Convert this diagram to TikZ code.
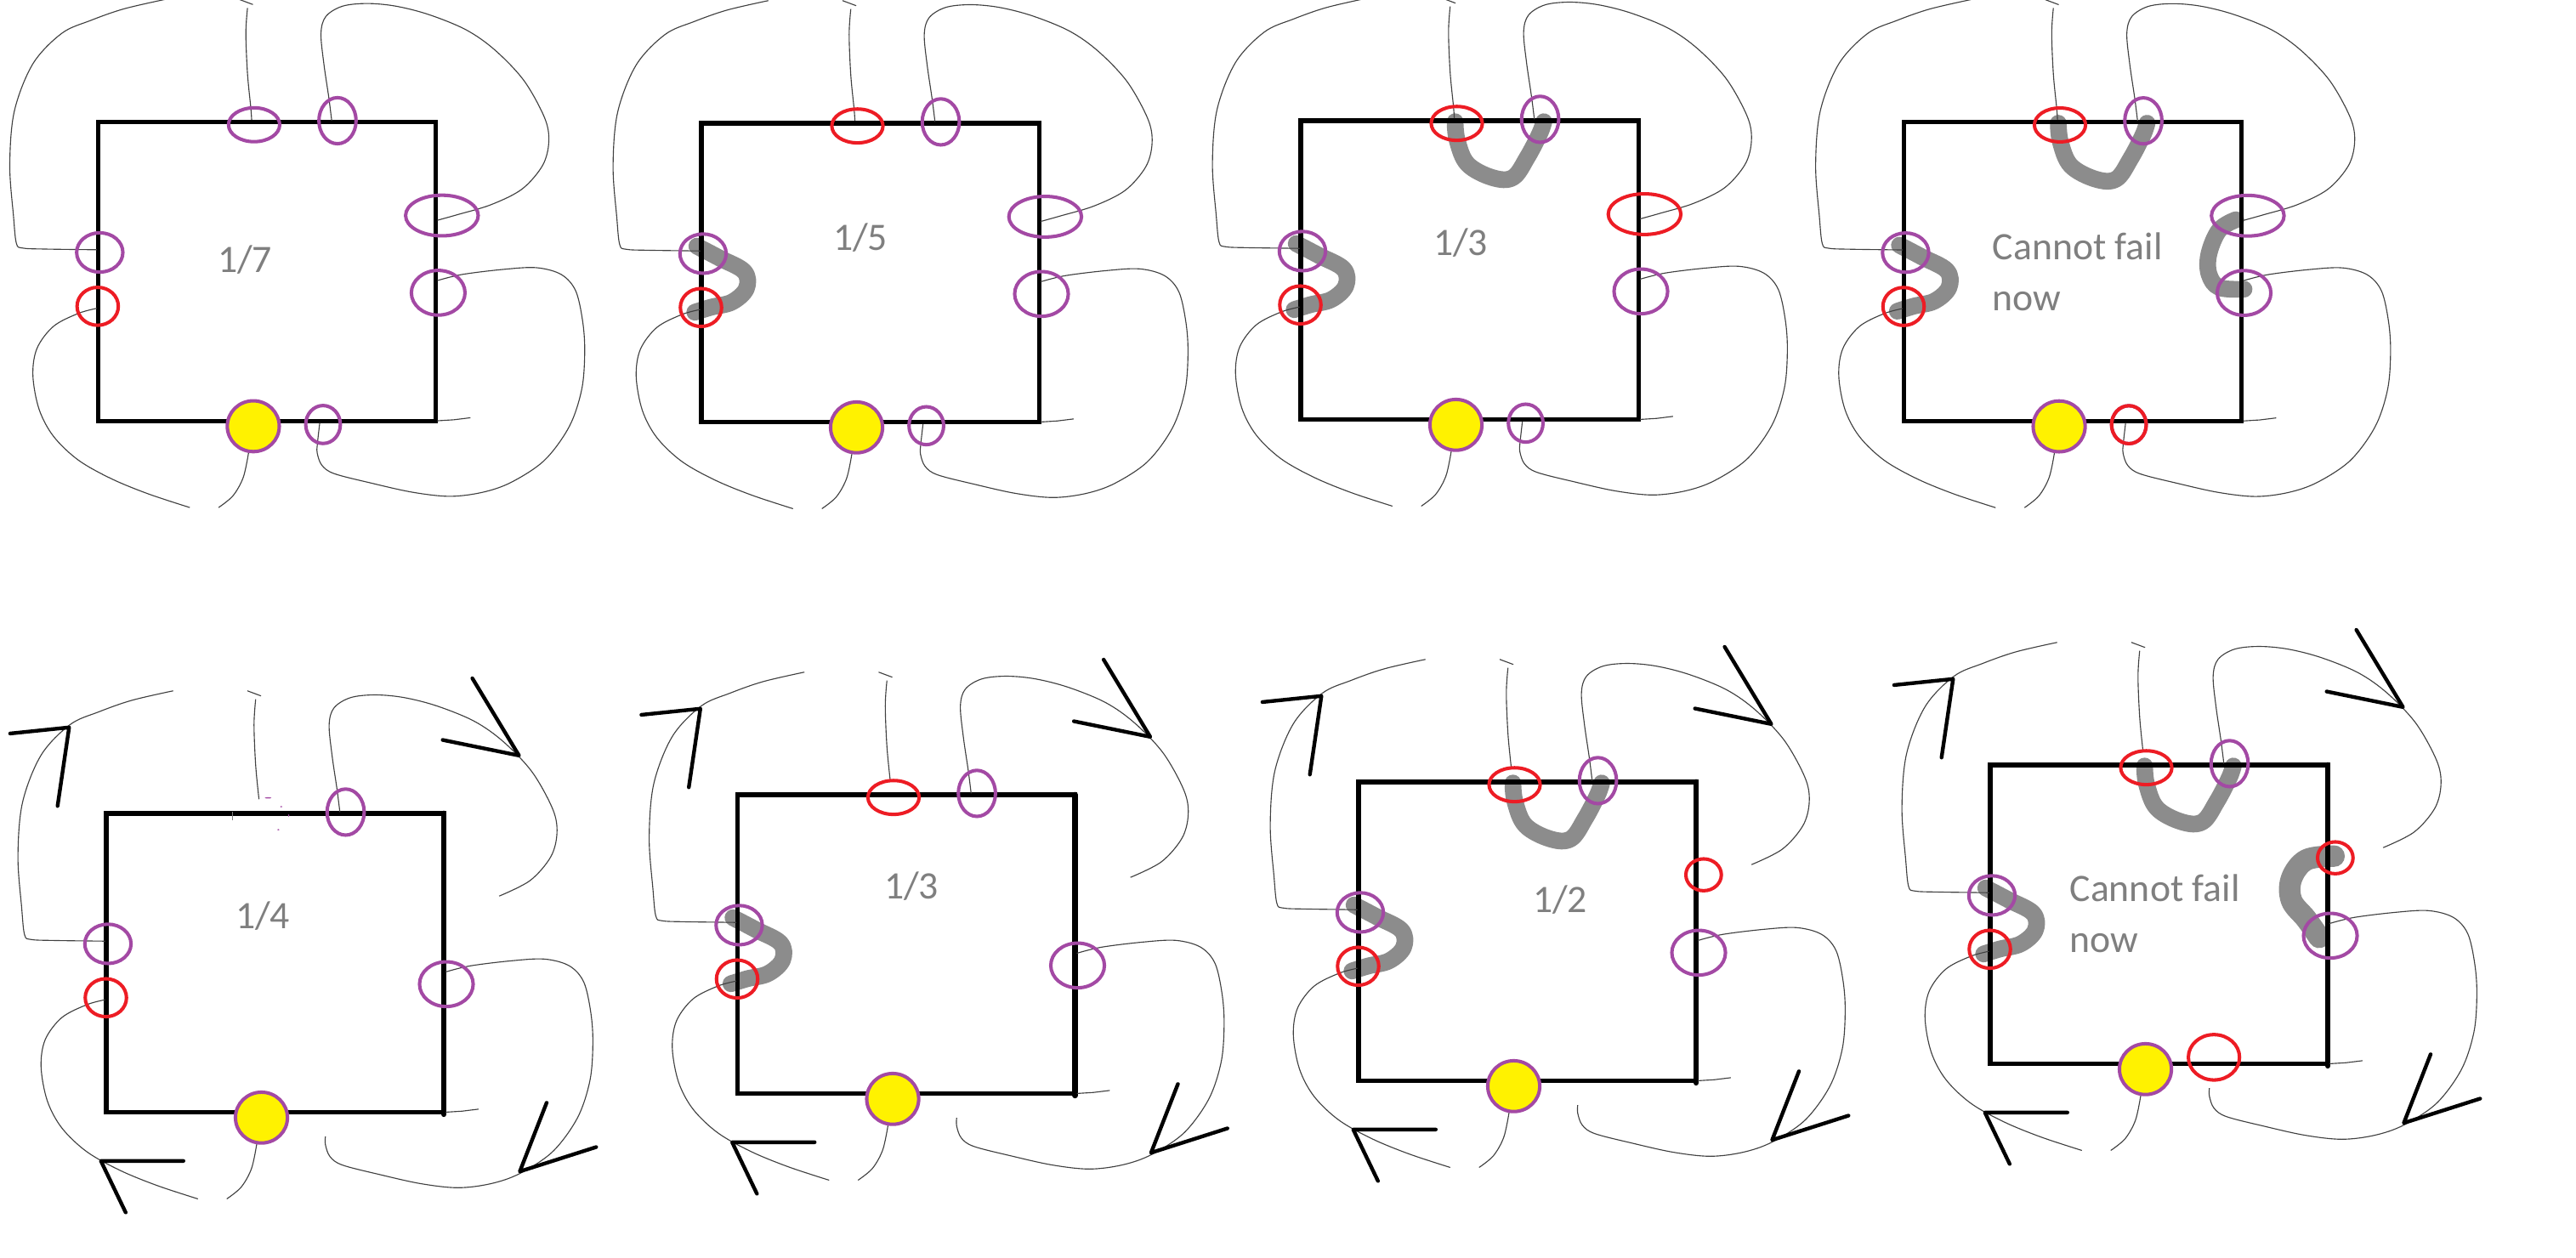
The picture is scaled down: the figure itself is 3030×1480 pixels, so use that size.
\documentclass[tikz,border=0pt]{standalone}
\usepackage{fontspec}
\setmainfont{Carlito}
\definecolor{ringpurple}{HTML}{A349A4}
\definecolor{ringred}{HTML}{ED1C24}
\definecolor{dotyellow}{HTML}{FFF200}
\definecolor{labgray}{HTML}{7F7F7F}
\definecolor{stain}{HTML}{8C8C8C}
\tikzset{
  wire/.style={draw=black!75,line width=0.32pt},
  edgeline/.style={draw=black,line width=1.45pt,line join=miter},
  ringp/.style={draw=ringpurple,line width=1.15pt},
  ringr/.style={draw=ringred,line width=1.15pt},
  dotp/.style={draw=ringpurple,fill=dotyellow,line width=1.15pt},
  stainline/.style={draw=stain,line width=5.6pt,line cap=round,line join=round},
  stainbig/.style={draw=stain,line width=7.2pt,line cap=round,line join=round},
  headline/.style={draw=black,line width=1.25pt,line cap=round,line join=round},
  lab/.style={text=labgray,font=\fontsize{13}{17.2}\selectfont,inner sep=0pt,align=left}
}
% all panel contents are given in one common template frame
\newcommand{\panel}[3]{%
  \begin{scope}[shift={(#1,#2)},x=0.004847cm,y=-0.003975cm,shift={(-238,-362)}]#3\end{scope}}
\newcommand{\wOne}{\draw[wire] plot[smooth,tension=0.55] coordinates {(235,739)(110,737)(55,734)(40,720)(33,640)(24,490)(35,330)(80,190)(150,100)(220,62)(300,28)(400,0)};}
\newcommand{\wTwo}[1]{\draw[wire] (580,0)--(613,15);
  \draw[wire] plot[smooth,tension=0.55] coordinates {(600,25)(596,100)(600,220)(608,320)#1};}
\newcommand{\wThree}[1]{\draw[wire] plot[smooth,tension=0.55] coordinates {(804,358)(797,290)(785,190)(778,100)(790,50)(830,20)(890,12)(960,20)(1040,45)(1130,90)(1200,150)(1270,240)(1320,350)(1330,420)(1315,490)(1265,560)(1190,606)#1};}
\newcommand{\wFour}[1]{\draw[wire] plot[smooth,tension=0.55] coordinates {(1060,830)(1120,812)(1220,797)(1300,792)(1360,812)(1395,860)(1412,950)(1417,1040)(1410,1150)(1380,1260)(1320,1360)(1240,1425)(1170,1455)(1090,1467)(1000,1455)(900,1428)(810,1400)(780,1375)(769,1340)(769,1316)#1};}
\newcommand{\wRest}{\draw[wire] (1060,1244)--(1100,1241)--(1140,1235);
  \draw[wire] plot[smooth,tension=0.55] coordinates {(235,912)(190,927)(130,965)(90,1030)(80,1110)(95,1210)(130,1290)(190,1360)(270,1415)(360,1460)(460,1500)};
  \draw[wire] plot[smooth,tension=0.55] coordinates {(603,1335)(590,1410)(565,1465)(530,1500)};}
\newcommand{\sqTop}{\draw[edgeline] (238,362) rectangle (1056,1245);}
\newcommand{\sqLow}{\draw[edgeline] (238,362) rectangle (1056,1245);
  \draw[draw=black,line width=1.9pt,line cap=round] (1056,362)--(1056,1250);}
\newcommand{\stL}{\draw[stainline] plot[smooth,tension=0.6] coordinates {(227,725)(282,760)(342,800)(347,850)(312,890)(262,905)(222,920)};}
\newcommand{\stU}{\draw[stainline] plot[smooth,tension=0.6] coordinates {(612,365)(617,420)(642,490)(702,530)(752,530)(787,470)(817,400)(827,365)};}
\newcommand{\stR}{\draw[stainline] plot[smooth,tension=0.6] coordinates {(1042,650)(1002,680)(977,750)(977,810)(1002,850)(1062,855)};}
\newcommand{\stRb}{\draw[stainbig] plot[smooth,tension=0.6] coordinates {(1071,631)(1004,642)(968,697)(968,762)(1004,817)(1035,871)};}
\newcommand{\ring}[5]{\draw[#1] (#2,#3) ellipse [x radius=#4,y radius=#5];}
\newcommand{\rTopMid}[1]{\ring{#1}{616}{370}{62}{50}}
\newcommand{\rTopR}{\ring{ringp}{818}{358}{45}{68}}
\newcommand{\rRUp}[1]{\ring{#1}{1071}{638}{88}{60}}
\newcommand{\rRLow}{\ring{ringp}{1062}{866}{65}{66}}
\newcommand{\rLUp}{\ring{ringp}{242}{747}{56}{58}}
\newcommand{\rLLow}{\ring{ringr}{237}{906}{50}{56}}
\newcommand{\rSmall}[1]{\ring{#1}{783}{1255}{42}{56}}
\newcommand{\rYellow}{\path[dotp] (614,1260) ellipse [x radius=63,y radius=75];}
\newcommand{\heads}{%
  \draw[headline] (5,126)--(148,108)--(120,340);
  \draw[headline] (1125,-37)--(1238,191)--(1053,145);
  \draw[headline] (1305,1216)--(1240,1419)--(1425,1347);
  \draw[headline] (425,1388)--(225,1388)--(285,1540);}
\begin{document}
\begin{tikzpicture}[x=0.01cm,y=-0.01cm]
\useasboundingbox (0,0) rectangle (3030,1480);
\fill[white] (0,0) rectangle (3030,1480);

% --- top row ---
\panel{115.4}{143.6}{\sqTop \wOne \wTwo{(610,355)} \wThree{(1110,635)(1060,652)} \wFour{(775,1250)} \wRest
  \rTopMid{ringp}\rTopR\rRUp{ringp}\rRLow\rLUp\rLLow\rSmall{ringp}\rYellow}
\panel{825}{145}{\stL \sqTop \wOne \wTwo{(610,355)} \wThree{(1110,635)(1060,652)} \wFour{(775,1250)} \wRest
  \rTopMid{ringr}\rTopR\rRUp{ringp}\rRLow\rLUp\rLLow\rSmall{ringp}\rYellow}
\panel{1530}{142}{\stL \stU \sqTop \wOne \wTwo{(610,355)} \wThree{(1110,635)(1060,652)} \wFour{(775,1250)} \wRest
  \rTopMid{ringr}\rTopR\rRUp{ringr}\rRLow\rLUp\rLLow\rSmall{ringp}\rYellow}
\panel{2239.5}{143.8}{\stL \stU \stR \sqTop \wOne \wTwo{(610,355)} \wThree{(1110,635)(1060,652)} \wFour{(775,1250)} \wRest
  \rTopMid{ringr}\rTopR\rRUp{ringp}\rRLow\rLUp\rLLow\rSmall{ringp}\rSmall{ringr}\rYellow}

% --- bottom row ---
\panel{125}{957}{\sqLow \wOne \wTwo{} \wThree{} \wFour{} \wRest \heads
  \rTopR\rRLow\rLUp\rLLow\rYellow
  \draw[wire,draw=gray] (544,358)--(544,382);
  \fill[ringpurple] (630,316) circle [x radius=8,y radius=2] (662,342) circle [x radius=3,y radius=2] (680,368) circle [x radius=1.5,y radius=4] (655,410) circle [x radius=3,y radius=2];}
\panel{867.5}{935}{\stL \sqLow \wOne \wTwo{} \wThree{} \wFour{} \wRest \heads
  \rTopMid{ringr}\rTopR\rRLow\rLUp\rLLow\rYellow}
\panel{1598}{920}{\stL \stU \sqLow \wOne \wTwo{} \wThree{} \wFour{} \wRest \heads
  \rTopMid{ringr}\rTopR\ring{ringr}{1074}{636}{43}{47}\rRLow\rLUp\rLLow\rYellow}
\panel{2341}{900}{\stL \stU \stRb \sqLow \wOne \wTwo{} \wThree{} \wFour{} \wRest \heads
  \rTopMid{ringr}\rTopR\ring{ringr}{1074}{636}{43}{47}\rRLow\rLUp\rLLow\ring{ringr}{780}{1225}{62}{67}\rYellow}

% --- labels ---
\node[lab] (t1) at (288,306) {1/7};
\node[lab] (t2) at (1012,280) {1/5};
\node[lab] (t3) at (1718,286) {1/3};
\node[lab,anchor=west] (t4) at (2343,320) {Cannot fail\\now};
\node[lab] (t5) at (309,1078) {1/4};
\node[lab] (t6) at (1072,1043) {1/3};
\node[lab] (t7) at (1835,1059) {1/2};
\node[lab,anchor=west] (t8) at (2434,1075) {Cannot fail\\now};
\end{tikzpicture}
\end{document}
